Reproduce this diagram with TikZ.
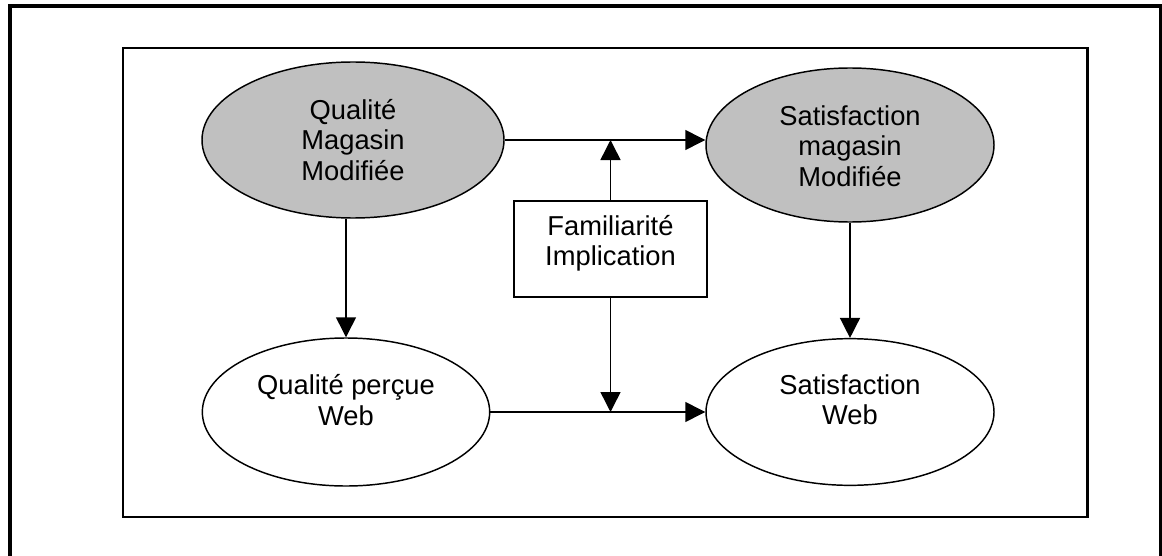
\documentclass[tikz,border=0pt]{standalone}
\usepackage{fontspec}
\setmainfont{Liberation Sans}
\usetikzlibrary{shapes.geometric,arrows.meta}
\definecolor{ellgray}{HTML}{C0C0C0}
\tikzset{
  ell/.style={draw=black, line width=1.1pt, ellipse, inner sep=0pt},
  grayell/.style={ell, fill=ellgray},
  whiteell/.style={ell, fill=white},
  txt/.style={align=center, inner sep=0pt, font=\fontsize{20.5}{22.7}\selectfont},
  modbox/.style={draw=black, line width=1.1pt, fill=white, rectangle, inner sep=0pt,
                 minimum width=144.75pt, minimum height=72pt},
  conn/.style={line width=1.1pt, -{Triangle[length=15pt,width=15pt]}},
}
\begin{document}
\begin{tikzpicture}[x=0.75pt, y=-0.75pt]
\useasboundingbox (0,0) rectangle (1162,556);
% outer frame (bottom edge lies outside the picture)
\draw[line width=2.4pt] (10,570) -- (10,6) -- (1160.5,6) -- (1160.5,570);
% inner frame
\draw[line width=1.9pt] (123,48) rectangle (1087.5,517);
% nodes
\node[grayell, minimum width=226.5pt, minimum height=117pt] (qm) at (353,140) {};
\node[grayell, minimum width=216pt, minimum height=115.5pt] (sm) at (850,145) {};
\node[whiteell, minimum width=215.5pt, minimum height=111pt] (qw) at (346,412) {};
\node[whiteell, minimum width=216pt, minimum height=110pt] (sw) at (850,412) {};
\node[modbox] (fi) at (610.5,249) {};
\node[txt] (qmt) at (353,140) {Qualité\\Magasin\\Modifiée};
\node[txt] (smt) at (850,146) {Satisfaction\\magasin\\Modifiée};
\node[txt] (qwt) at (346,400) {Qualité perçue\\Web};
\node[txt] (swt) at (850,400) {Satisfaction\\Web};
\node[txt] (fit) at (610.5,243) {Familiarité\\Implication};
% connectors
\draw[conn] (qm.east) -- (qm.east -| sm.west);
\draw[conn] (qw.north |- qm.south) -- (qw.north);
\draw[conn] (sm.south) -- (sw.north);
\draw[conn] (qw.east) -- (qw.east -| sw.west);
\draw[conn] (fi.north) -- (fi.north |- qm.east);
\draw[conn] (fi.south) -- (fi.south |- qw.east);
\end{tikzpicture}
\end{document}
